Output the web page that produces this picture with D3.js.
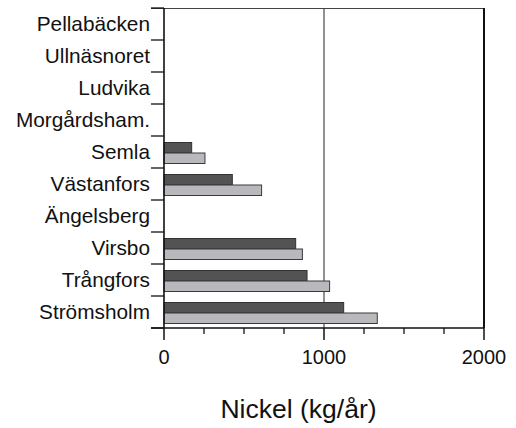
<!DOCTYPE html>
<html>
<head>
<meta charset="utf-8">
<script src="https://cdn.jsdelivr.net/npm/d3@7"></script>
<style>
  html, body { margin: 0; padding: 0; background: #fff; }
  svg { display: block; }
  text { font-family: "Liberation Sans", Arial, Helvetica, sans-serif; fill: #111; }
</style>
</head>
<body>
<script>
// Sites, top to bottom
const sites = ["Pellabäcken", "Ullnäsnoret", "Ludvika", "Morgårdsham.", "Semla",
               "Västanfors", "Ängelsberg", "Virsbo", "Trångfors", "Strömsholm"];
// Nickel transport (kg/år), two series per site (null = no bar)
const seriesDark  = [null, null, null, null, 173, 427, null, 823, 894, 1123];
const seriesLight = [null, null, null, null, 256, 610, null, 865, 1035, 1333];
const xTicks = [0, 1000, 2000];
const xMinorTicks = [250, 500, 750, 1250, 1500, 1750];
const xTitle = "Nickel (kg/år)";

(function draw() {
  const W = 516, H = 428;
  const mLeft = 164, mRight = 484, mTop = 8, mBottom = 328;

  const svg = d3.select("body").append("svg").attr("width", W).attr("height", H);

  const x = d3.scaleLinear().domain([0, 2000]).range([mLeft, mRight]);
  const y = d3.scaleBand().domain(sites).range([mTop, mBottom]).padding(0);
  const bw = y.bandwidth();

  // reference line at 1000
  svg.append("line")
    .attr("x1", x(1000)).attr("x2", x(1000)).attr("y1", mTop).attr("y2", mBottom)
    .attr("stroke", "#222").attr("stroke-width", 1);

  // top frame line
  svg.append("line")
    .attr("x1", mLeft - 13).attr("x2", mRight).attr("y1", mTop + 0.5).attr("y2", mTop + 0.5)
    .attr("stroke", "#444").attr("stroke-width", 1.2);
  // right frame line
  svg.append("line")
    .attr("x1", mRight).attr("x2", mRight).attr("y1", mTop).attr("y2", mBottom)
    .attr("stroke", "#111").attr("stroke-width", 2);

  // bars
  const barH = 10.5, off = 6.5;
  const rows = sites.map((s, i) => ({ site: s, dark: seriesDark[i], light: seriesLight[i] }));
  const g = svg.append("g");
  g.selectAll("rect.dark").data(rows.filter(d => d.dark != null)).join("rect")
    .attr("class", "dark")
    .attr("x", x(0)).attr("y", d => y(d.site) + off)
    .attr("width", d => x(d.dark) - x(0)).attr("height", barH)
    .attr("fill", "#535353").attr("stroke", "#333").attr("stroke-width", 1);
  g.selectAll("rect.light").data(rows.filter(d => d.light != null)).join("rect")
    .attr("class", "light")
    .attr("x", x(0)).attr("y", d => y(d.site) + off + barH)
    .attr("width", d => x(d.light) - x(0)).attr("height", barH)
    .attr("fill", "#b9b9bd").attr("stroke", "#3a3a3a").attr("stroke-width", 1);

  // left axis: band separators and labels
  const bounds = d3.range(sites.length + 1).map(i => mTop + i * bw);
  svg.selectAll("line.sep").data(bounds).join("line")
    .attr("class", "sep")
    .attr("x1", mLeft - 13).attr("x2", mLeft).attr("y1", d => d).attr("y2", d => d)
    .attr("stroke", "#111").attr("stroke-width", 1.3);
  svg.append("line")
    .attr("x1", mLeft).attr("x2", mLeft).attr("y1", mTop).attr("y2", mBottom)
    .attr("stroke", "#111").attr("stroke-width", 1.6);
  svg.selectAll("text.site").data(sites).join("text")
    .attr("class", "site")
    .attr("x", mLeft - 14).attr("y", d => y(d) + bw / 2 + 6.5)
    .attr("text-anchor", "end").attr("font-size", 20.8)
    .text(d => d);

  // bottom axis
  svg.append("line")
    .attr("x1", mLeft - 13).attr("x2", mRight).attr("y1", mBottom).attr("y2", mBottom)
    .attr("stroke", "#111").attr("stroke-width", 1.5);
  svg.selectAll("line.major").data(xTicks).join("line")
    .attr("class", "major")
    .attr("x1", d => x(d)).attr("x2", d => x(d)).attr("y1", mBottom).attr("y2", mBottom + 12)
    .attr("stroke", "#111").attr("stroke-width", 1.5);
  svg.selectAll("line.minor").data(xMinorTicks).join("line")
    .attr("class", "minor")
    .attr("x1", d => x(d)).attr("x2", d => x(d)).attr("y1", mBottom).attr("y2", mBottom + 6)
    .attr("stroke", "#111").attr("stroke-width", 1.3);
  svg.selectAll("text.tick").data(xTicks).join("text")
    .attr("class", "tick")
    .attr("x", d => x(d)).attr("y", 364)
    .attr("text-anchor", "middle").attr("font-size", 20)
    .text(d => d);

  svg.append("text")
    .attr("x", 298.5).attr("y", 418)
    .attr("text-anchor", "middle").attr("font-size", 26.5)
    .text(xTitle);
})();
</script>
</body>
</html>
